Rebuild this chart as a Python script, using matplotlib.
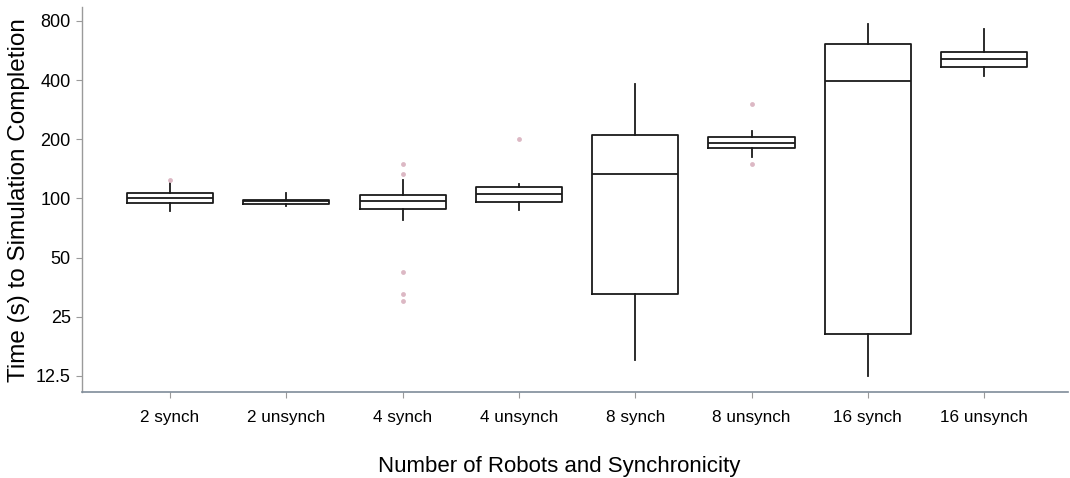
import matplotlib
matplotlib.use('Agg')
import matplotlib.pyplot as plt
from matplotlib.ticker import FixedLocator, NullLocator

plt.rcParams['font.family'] = ['Liberation Sans', 'DejaVu Sans']

# box summaries, completion time in seconds
groups = ['2 synch', '2 unsynch', '4 synch', '4 unsynch',
          '8 synch', '8 unsynch', '16 synch', '16 unsynch']
q1 = [94.3, 93.2, 88.6, 95.7, 32.6, 180, 20.3, 468]
median = [100.6, 96.5, 96.9, 105.2, 133, 191.5, 395, 510]
q3 = [106, 98.5, 103.6, 114.2, 210, 205.5, 609, 558]
whislo = [85.8, 91, 77.9, 87.6, 15.1, 162, 12.5, 419]
whishi = [119, 106, 123.5, 118.8, 380, 220, 770, 729]
outliers = [[123.6], [], [150.3, 132.5, 42.1, 32.6, 29.9], [200],
            [], [302, 149], [], []]

yticks = [12.5, 25, 50, 100, 200, 400, 800]
ytick_labels = ['12.5', '25', '50', '100', '200', '400', '800']

stats = []
for i, name in enumerate(groups):
    stats.append({'label': name, 'q1': q1[i], 'med': median[i], 'q3': q3[i],
                  'whislo': whislo[i], 'whishi': whishi[i],
                  'fliers': outliers[i]})

fig = plt.figure(figsize=(10.7, 4.78), dpi=100)
ax = fig.add_axes([0.0766, 0.18, 0.9214, 0.805])

line = dict(color='#1a1a1a', linewidth=1.3)
ax.bxp(stats, positions=range(len(groups)), widths=0.74, showcaps=False,
       boxprops=line, medianprops=line, whiskerprops=line,
       flierprops=dict(marker='o', markersize=3.5, markerfacecolor='#dcb8c4',
                       markeredgecolor='none'))

ax.set_yscale('log', base=2)
ax.set_ylim(10.35, 939)
ax.set_xlim(-0.757, 7.72)
ax.yaxis.set_major_locator(FixedLocator(yticks))
ax.yaxis.set_minor_locator(NullLocator())
ax.set_yticklabels(ytick_labels)
ax.set_xticks(range(len(groups)))
ax.set_xticklabels(groups)

for side in ['top', 'right']:
    ax.spines[side].set_visible(False)
ax.spines['left'].set_color('#9a9a9a')
ax.spines['bottom'].set_color('#7f8c99')
ax.spines['left'].set_linewidth(1.0)
ax.spines['bottom'].set_linewidth(1.2)

ax.tick_params(axis='y', length=4, color='#9a9a9a', labelsize=13, pad=4)
ax.tick_params(axis='x', length=4, color='#9a9a9a', labelsize=12.3, pad=9)

ax.set_ylabel('Time (s) to Simulation Completion', fontsize=17.5, labelpad=4)
ax.set_xlabel('Number of Robots and Synchronicity', fontsize=16, labelpad=22)
ax.xaxis.label.set_x(0.484)

fig.savefig('out.png', dpi=100)
